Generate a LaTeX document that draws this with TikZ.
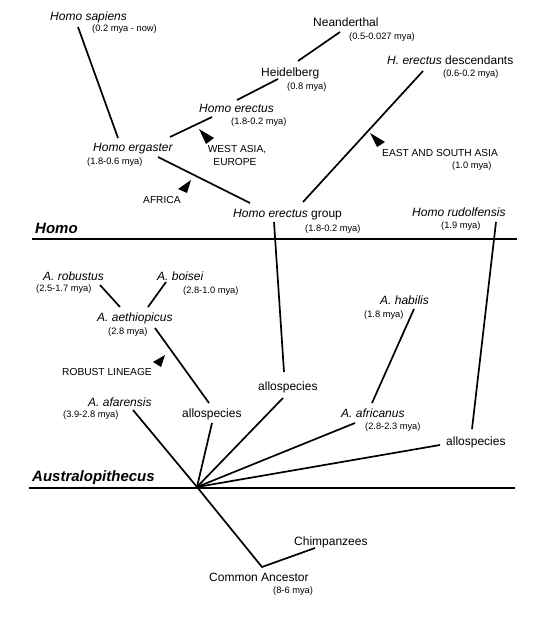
\documentclass[tikz,border=0pt]{standalone}
\usepackage{fontspec}
\setmainfont{Liberation Sans}
\begin{document}
\begin{tikzpicture}[x=1pt,y=-1pt,
  lbl/.style={font=\fontsize{12}{14}\selectfont,anchor=base west,inner sep=0pt},
  dt/.style={font=\fontsize{9.3}{11}\selectfont,anchor=base west,inner sep=0pt},
  capl/.style={font=\fontsize{10.2}{12}\selectfont,anchor=base west,inner sep=0pt},
  capc/.style={font=\fontsize{10.2}{12}\selectfont,anchor=base,inner sep=0pt},
  grp/.style={font=\fontsize{15}{17}\selectfont\bfseries\itshape,anchor=base west,inner sep=0pt},
  br/.style={line width=1.7pt},
  axisline/.style={line width=2.6pt},
  tri/.style={fill=black}]
\useasboundingbox (0,0) rectangle (551,618);
% ---------- labels ----------
\node[lbl] (sap) at (50,21) {\itshape Homo sapiens};
\node[dt]  (sapd) at (92,32) {(0.2 mya - now)};
\node[lbl] (nea) at (313,27) {Neanderthal};
\node[dt]  (nead) at (349,40) {(0.5-0.027 mya)};
\node[lbl] (hei) at (261,76) {Heidelberg};
\node[dt]  (heid) at (287,89) {(0.8 mya)};
\node[lbl] (ere) at (199,112) {\itshape Homo erectus};
\node[dt]  (ered) at (231,124) {(1.8-0.2 mya)};
\node[lbl] (desc) at (387,65) {\itshape H. erectus\/\upshape{} descendants};
\node[dt]  (descd) at (443,76) {(0.6-0.2 mya)};
\node[lbl] (erg) at (93,151) {\itshape Homo ergaster};
\node[dt]  (ergd) at (87,164) {(1.8-0.6 mya)};
\node[capc] (wa) at (237,152) {WEST ASIA,};
\node[capc] (eu) at (235,165) {EUROPE};
\node[capl] (afr) at (143,203) {AFRICA};
\node[capl] (esa) at (382,156) {EAST AND SOUTH ASIA};
\node[dt]  (esad) at (452,168) {(1.0 mya)};
\node[lbl] (grpn) at (233,217) {\itshape Homo erectus\/\upshape{} group};
\node[dt]  (grpd) at (305,231) {(1.8-0.2 mya)};
\node[lbl] (rud) at (412,216) {\itshape Homo rudolfensis};
\node[dt]  (rudd) at (441,228) {(1.9 mya)};
\node[grp] (homo) at (35,233) {Homo};
\node[lbl] (rob) at (43,280) {\itshape A. robustus};
\node[dt]  (robd) at (36,291) {(2.5-1.7 mya)};
\node[lbl] (boi) at (157,280) {\itshape A. boisei};
\node[dt]  (boid) at (183,293) {(2.8-1.0 mya)};
\node[lbl] (aet) at (97,321) {\itshape A. aethiopicus};
\node[dt]  (aetd) at (108,334) {(2.8 mya)};
\node[capl] (robl) at (62,375) {ROBUST LINEAGE};
\node[lbl] (hab) at (380,304) {\itshape A. habilis};
\node[dt]  (habd) at (364,317) {(1.8 mya)};
\node[lbl] (afa) at (88,406) {\itshape A. afarensis};
\node[dt]  (afad) at (63,417) {(3.9-2.8 mya)};
\node[lbl] (allo1) at (182,417) {allospecies};
\node[lbl] (allo2) at (258,390) {allospecies};
\node[lbl] (afc) at (341,417) {\itshape A. africanus};
\node[dt]  (afcd) at (365,429) {(2.8-2.3 mya)};
\node[lbl] (allo3) at (446,445) {allospecies};
\node[grp] (aus) at (32,481) {Australopithecus};
\node[lbl] (chi) at (294,545) {Chimpanzees};
\node[lbl] (ca) at (209,581) {Common Ancestor};
\node[dt]  (cad) at (273,593) {(8-6 mya)};
% ---------- connector end points ----------
\coordinate (sapE) at (78,27);   \coordinate (ergN) at (118,138);
\coordinate (ergR) at (170,137); \coordinate (ereL) at (212,117);
\coordinate (ereR) at (237,100); \coordinate (heiL) at (278,79);
\coordinate (heiR) at (298,61);  \coordinate (neaL) at (340,32);
\coordinate (descL) at (423,71); \coordinate (grpR) at (303,202);
\coordinate (ergS) at (158,157); \coordinate (grpL) at (250,203);
\coordinate (grpB) at (274,222); \coordinate (allo2T) at (284,372);
\coordinate (rudB) at (496,222); \coordinate (allo3T) at (472,429);
\coordinate (robE) at (100,285); \coordinate (aetL) at (120,307);
\coordinate (boiE) at (166,282); \coordinate (aetR) at (148,307);
\coordinate (aetB) at (155,328); \coordinate (allo1T) at (209,403);
\coordinate (habE) at (414,309); \coordinate (afcT) at (372,403);
\coordinate (hub) at (197,487);
\coordinate (afaE) at (133,410); \coordinate (allo1B) at (212,423);
\coordinate (allo2B) at (283,398); \coordinate (afcE) at (355,423);
\coordinate (allo3E) at (440,445);
\coordinate (caE) at (262,567); \coordinate (chiE) at (315,548);
\coordinate (homoL) at (32,239); \coordinate (homoR) at (517,239);
\coordinate (ausL) at (29,488);  \coordinate (ausR) at (515,488);
% ---------- axes ----------
\draw[axisline] (homoL) -- (homoR);
\draw[axisline] (ausL) -- (ausR);
% ---------- branches ----------
\draw[br] (sapE) -- (ergN);
\draw[br] (ergR) -- (ereL);
\draw[br] (ereR) -- (heiL);
\draw[br] (heiR) -- (neaL);
\draw[br] (descL) -- (grpR);
\draw[br] (ergS) -- (grpL);
\draw[br] (grpB) -- (allo2T);
\draw[br] (rudB) -- (allo3T);
\draw[br] (robE) -- (aetL);
\draw[br] (boiE) -- (aetR);
\draw[br] (aetB) -- (allo1T);
\draw[br] (habE) -- (afcT);
\draw[br] (afaE) -- (hub);
\draw[br] (allo1B) -- (hub);
\draw[br] (allo2B) -- (hub);
\draw[br] (afcE) -- (hub);
\draw[br] (allo3E) -- (hub);
\draw[br] (hub) -- (caE) -- (chiE);
% ---------- direction wedges ----------
\fill[tri] (199,129) -- (214,138) -- (206,144) -- cycle;
\fill[tri] (191,180) -- (178,189) -- (187,193) -- cycle;
\fill[tri] (370,133) -- (385,142) -- (377,147) -- cycle;
\fill[tri] (165,355) -- (153,362) -- (161,367) -- cycle;
\end{tikzpicture}
\end{document}
